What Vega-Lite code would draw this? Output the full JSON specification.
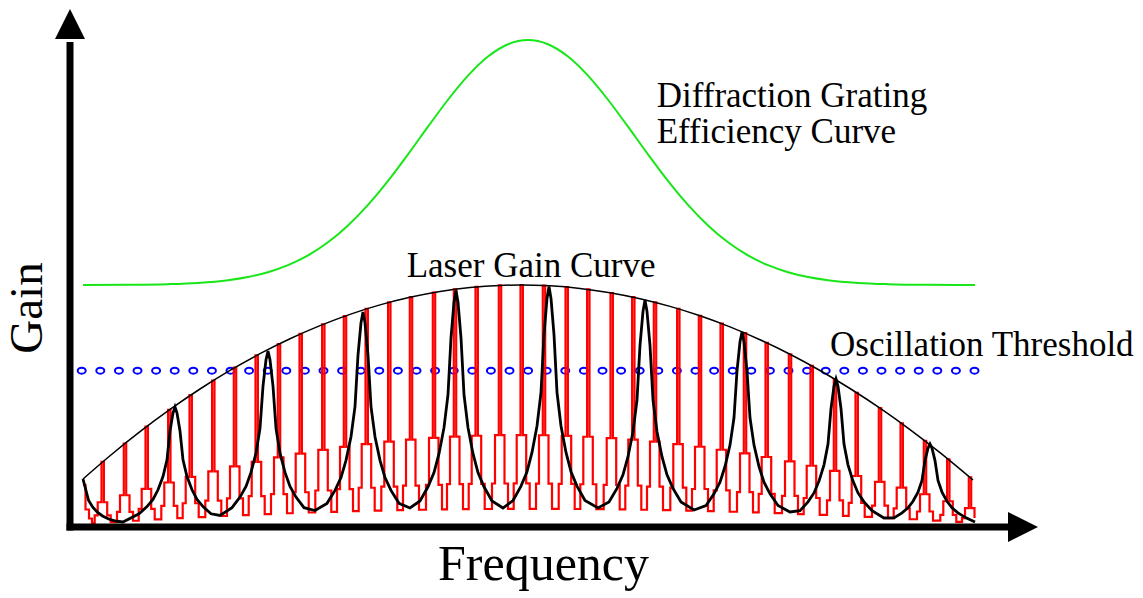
{
"$schema":"https://vega.github.io/schema/vega-lite/v6.json",
"width":1143,"height":598,"padding":0,"autosize":{"type":"none"},
"background":"white",
"config":{"view":{"stroke":null}},
"datasets":{
"env":[{"x":1.3,"y":9.6},{"x":4.0,"y":14.25},{"x":7.0,"y":19.06},{"x":10.0,"y":23.51},{"x":13.0,"y":27.6},{"x":16.0,"y":31.31},{"x":19.0,"y":34.66},{"x":22.0,"y":37.65},{"x":25.0,"y":40.27},{"x":28.0,"y":42.53},{"x":31.0,"y":44.42},{"x":34.0,"y":45.94},{"x":37.0,"y":47.1},{"x":40.0,"y":47.89},{"x":43.0,"y":48.32},{"x":45.0,"y":48.4},{"x":48.0,"y":48.23},{"x":51.0,"y":47.72},{"x":54.0,"y":46.86},{"x":57.0,"y":45.66},{"x":60.0,"y":44.12},{"x":63.0,"y":42.24},{"x":66.0,"y":40.02},{"x":69.0,"y":37.45},{"x":72.0,"y":34.55},{"x":75.0,"y":31.3},{"x":78.0,"y":27.7},{"x":81.0,"y":23.77},{"x":84.0,"y":19.49},{"x":87.0,"y":14.87},{"x":90.3,"y":9.4}],
"green":[{"x":1.3,"y":48.4},{"x":5.8,"y":48.44},{"x":9.8,"y":48.57},{"x":12.8,"y":48.82},{"x":15.8,"y":49.36},{"x":17.8,"y":50.0},{"x":19.8,"y":50.96},{"x":21.8,"y":52.36},{"x":23.8,"y":54.32},{"x":25.8,"y":56.94},{"x":27.8,"y":60.3},{"x":29.8,"y":64.42},{"x":31.8,"y":69.22},{"x":33.8,"y":74.53},{"x":35.8,"y":80.06},{"x":37.8,"y":85.45},{"x":39.8,"y":90.27},{"x":41.8,"y":94.09},{"x":43.8,"y":96.55},{"x":45.8,"y":97.4},{"x":47.8,"y":96.55},{"x":49.8,"y":94.09},{"x":51.8,"y":90.27},{"x":53.8,"y":85.45},{"x":55.8,"y":80.06},{"x":57.8,"y":74.53},{"x":59.8,"y":69.22},{"x":61.8,"y":64.42},{"x":63.8,"y":60.3},{"x":65.8,"y":56.94},{"x":67.8,"y":54.32},{"x":69.8,"y":52.36},{"x":71.8,"y":50.96},{"x":73.8,"y":50.0},{"x":75.8,"y":49.36},{"x":78.8,"y":48.82},{"x":81.8,"y":48.57},{"x":85.8,"y":48.44},{"x":90.5,"y":48.4}],
"dots":[{"x":1.17,"y":31.26},{"x":3.03,"y":31.26},{"x":4.89,"y":31.26},{"x":6.75,"y":31.26},{"x":8.61,"y":31.26},{"x":10.47,"y":31.26},{"x":12.33,"y":31.26},{"x":14.19,"y":31.26},{"x":16.05,"y":31.26},{"x":17.91,"y":31.26},{"x":19.77,"y":31.26},{"x":21.63,"y":31.26},{"x":23.49,"y":31.26},{"x":25.35,"y":31.26},{"x":27.21,"y":31.26},{"x":29.07,"y":31.26},{"x":30.93,"y":31.26},{"x":32.79,"y":31.26},{"x":34.65,"y":31.26},{"x":36.51,"y":31.26},{"x":38.37,"y":31.26},{"x":40.23,"y":31.26},{"x":42.09,"y":31.26},{"x":43.95,"y":31.26},{"x":45.81,"y":31.26},{"x":47.67,"y":31.26},{"x":49.53,"y":31.26},{"x":51.39,"y":31.26},{"x":53.25,"y":31.26},{"x":55.11,"y":31.26},{"x":56.97,"y":31.26},{"x":58.83,"y":31.26},{"x":60.69,"y":31.26},{"x":62.55,"y":31.26},{"x":64.41,"y":31.26},{"x":66.27,"y":31.26},{"x":68.13,"y":31.26},{"x":69.99,"y":31.26},{"x":71.85,"y":31.26},{"x":73.71,"y":31.26},{"x":75.57,"y":31.26},{"x":77.43,"y":31.26},{"x":79.29,"y":31.26},{"x":81.15,"y":31.26},{"x":83.01,"y":31.26},{"x":84.87,"y":31.26},{"x":86.73,"y":31.26},{"x":88.59,"y":31.26},{"x":90.45,"y":31.26}],
"red":[{"x":1.3,"y":8.4},{"x":1.55,"y":3.5},{"x":1.9,"y":1.7},{"x":2.2,"y":0.8},
{"x":2.47,"y":2.34},{"x":2.77,"y":4.95},{"x":3.15,"y":13.02},{"x":3.39,"y":4.95},{"x":3.72,"y":2.34},{"x":4.07,"y":0.98},
{"x":4.7,"y":3.01},{"x":5.0,"y":6.35},{"x":5.38,"y":16.7},{"x":5.62,"y":6.35},{"x":5.95,"y":3.01},{"x":6.3,"y":1.25},
{"x":6.87,"y":3.62},{"x":7.17,"y":7.63},{"x":7.55,"y":20.09},{"x":7.79,"y":7.63},{"x":8.12,"y":3.62},{"x":8.47,"y":1.51},
{"x":9.13,"y":4.21},{"x":9.43,"y":8.9},{"x":9.81,"y":23.41},{"x":10.05,"y":8.9},{"x":10.38,"y":4.21},{"x":10.73,"y":1.76},
{"x":11.27,"y":4.75},{"x":11.57,"y":10.02},{"x":11.95,"y":26.37},{"x":12.19,"y":10.02},{"x":12.52,"y":4.75},{"x":12.87,"y":1.98},
{"x":13.53,"y":5.27},{"x":13.83,"y":11.13},{"x":14.21,"y":29.29},{"x":14.45,"y":11.13},{"x":14.78,"y":5.27},{"x":15.13,"y":2.2},
{"x":15.7,"y":5.74},{"x":16.0,"y":12.12},{"x":16.38,"y":31.9},{"x":16.62,"y":12.12},{"x":16.95,"y":5.74},{"x":17.3,"y":2.39},
{"x":17.87,"y":6.18},{"x":18.17,"y":13.04},{"x":18.55,"y":34.31},{"x":18.79,"y":13.04},{"x":19.12,"y":6.18},{"x":19.47,"y":2.57},
{"x":20.1,"y":6.59},{"x":20.4,"y":13.91},{"x":20.78,"y":36.6},{"x":21.02,"y":13.91},{"x":21.35,"y":6.59},{"x":21.7,"y":2.75},
{"x":22.27,"y":6.95},{"x":22.57,"y":14.68},{"x":22.95,"y":38.63},{"x":23.19,"y":14.68},{"x":23.52,"y":6.95},{"x":23.87,"y":2.9},
{"x":24.53,"y":7.3},{"x":24.83,"y":15.41},{"x":25.21,"y":40.54},{"x":25.45,"y":15.41},{"x":25.78,"y":7.3},{"x":26.13,"y":3.04},
{"x":26.7,"y":7.59},{"x":27.0,"y":16.03},{"x":27.38,"y":42.18},{"x":27.62,"y":16.03},{"x":27.95,"y":7.59},{"x":28.3,"y":3.16},
{"x":28.87,"y":7.85},{"x":29.17,"y":16.58},{"x":29.55,"y":43.63},{"x":29.79,"y":16.58},{"x":30.12,"y":7.85},{"x":30.47,"y":3.27},
{"x":31.13,"y":8.09},{"x":31.43,"y":17.07},{"x":31.81,"y":44.93},{"x":32.05,"y":17.07},{"x":32.38,"y":8.09},{"x":32.73,"y":3.37},
{"x":33.3,"y":8.28},{"x":33.6,"y":17.48},{"x":33.98,"y":45.99},{"x":34.22,"y":17.48},{"x":34.55,"y":8.28},{"x":34.9,"y":3.45},
{"x":35.6,"y":8.44},{"x":35.9,"y":17.82},{"x":36.28,"y":46.9},{"x":36.52,"y":17.82},{"x":36.85,"y":8.44},{"x":37.2,"y":3.52},
{"x":37.7,"y":8.56},{"x":38.0,"y":18.07},{"x":38.38,"y":47.54},{"x":38.62,"y":18.07},{"x":38.95,"y":8.56},{"x":39.3,"y":3.57},
{"x":39.87,"y":8.64},{"x":40.17,"y":18.25},{"x":40.55,"y":48.02},{"x":40.79,"y":18.25},{"x":41.12,"y":8.64},{"x":41.47,"y":3.6},
{"x":42.2,"y":8.7},{"x":42.5,"y":18.36},{"x":42.88,"y":48.32},{"x":43.12,"y":18.36},{"x":43.45,"y":8.7},{"x":43.8,"y":3.62},
{"x":44.37,"y":8.71},{"x":44.67,"y":18.39},{"x":45.05,"y":48.4},{"x":45.29,"y":18.39},{"x":45.62,"y":8.71},{"x":45.97,"y":3.63},
{"x":46.6,"y":8.69},{"x":46.9,"y":18.35},{"x":47.28,"y":48.29},{"x":47.52,"y":18.35},{"x":47.85,"y":8.69},{"x":48.2,"y":3.62},
{"x":48.87,"y":8.64},{"x":49.17,"y":18.24},{"x":49.55,"y":47.99},{"x":49.79,"y":18.24},{"x":50.12,"y":8.64},{"x":50.47,"y":3.6},
{"x":51.03,"y":8.55},{"x":51.33,"y":18.05},{"x":51.71,"y":47.51},{"x":51.95,"y":18.05},{"x":52.28,"y":8.55},{"x":52.63,"y":3.56},
{"x":53.37,"y":8.42},{"x":53.67,"y":17.78},{"x":54.05,"y":46.8},{"x":54.29,"y":17.78},{"x":54.62,"y":8.42},{"x":54.97,"y":3.51},
{"x":55.53,"y":8.27},{"x":55.83,"y":17.46},{"x":56.21,"y":45.96},{"x":56.45,"y":17.46},{"x":56.78,"y":8.27},{"x":57.13,"y":3.45},
{"x":57.7,"y":8.09},{"x":58.0,"y":17.08},{"x":58.38,"y":44.94},{"x":58.62,"y":17.08},{"x":58.95,"y":8.09},{"x":59.3,"y":3.37},
{"x":60.03,"y":7.86},{"x":60.33,"y":16.58},{"x":60.71,"y":43.64},{"x":60.95,"y":16.58},{"x":61.28,"y":7.86},{"x":61.63,"y":3.27},
{"x":62.2,"y":7.6},{"x":62.5,"y":16.05},{"x":62.88,"y":42.24},{"x":63.12,"y":16.05},{"x":63.45,"y":7.6},{"x":63.8,"y":3.17},
{"x":64.37,"y":7.32},{"x":64.67,"y":15.45},{"x":65.05,"y":40.67},{"x":65.29,"y":15.45},{"x":65.62,"y":7.32},{"x":65.97,"y":3.05},
{"x":66.7,"y":6.98},{"x":67.0,"y":14.74},{"x":67.38,"y":38.78},{"x":67.62,"y":14.74},{"x":67.95,"y":6.98},{"x":68.3,"y":2.91},
{"x":68.87,"y":6.63},{"x":69.17,"y":14.0},{"x":69.55,"y":36.83},{"x":69.79,"y":14.0},{"x":70.12,"y":6.63},{"x":70.47,"y":2.76},
{"x":71.2,"y":6.22},{"x":71.5,"y":13.13},{"x":71.88,"y":34.55},{"x":72.12,"y":13.13},{"x":72.45,"y":6.22},{"x":72.8,"y":2.59},
{"x":73.37,"y":5.8},{"x":73.67,"y":12.25},{"x":74.05,"y":32.23},{"x":74.29,"y":12.25},{"x":74.62,"y":5.8},{"x":74.97,"y":2.42},
{"x":75.7,"y":5.32},{"x":76.0,"y":11.23},{"x":76.38,"y":29.54},{"x":76.62,"y":11.23},{"x":76.95,"y":5.32},{"x":77.3,"y":2.22},
{"x":77.87,"y":4.83},{"x":78.17,"y":10.2},{"x":78.55,"y":26.85},{"x":78.79,"y":10.2},{"x":79.12,"y":4.83},{"x":79.47,"y":2.01},
{"x":80.2,"y":4.28},{"x":80.5,"y":9.03},{"x":80.88,"y":23.77},{"x":81.12,"y":9.03},{"x":81.45,"y":4.28},{"x":81.8,"y":1.78},
{"x":82.37,"y":3.73},{"x":82.67,"y":7.87},{"x":83.05,"y":20.71},{"x":83.29,"y":7.87},{"x":83.62,"y":3.73},{"x":83.97,"y":1.55},
{"x":84.7,"y":3.1},{"x":85.0,"y":6.55},{"x":85.38,"y":17.23},{"x":85.62,"y":6.55},{"x":85.95,"y":3.1},{"x":86.3,"y":1.29},
{"x":87.03,"y":2.44},{"x":87.33,"y":5.15},{"x":87.71,"y":13.54},{"x":87.95,"y":5.15},{"x":88.28,"y":2.44},{"x":88.63,"y":1.02},
{"x":89.2,"y":1.78},{"x":89.5,"y":3.77},{"x":89.88,"y":9.91},{"x":90.12,"y":3.77},{"x":90.45,"y":1.78}],
"black":[{"x":1.3,"y":9.6},{"x":1.56,"y":7.6},{"x":1.86,"y":5.3},{"x":2.26,"y":4.0},{"x":2.76,"y":2.9},{"x":3.26,"y":2.2},{"x":3.86,"y":1.6},{"x":4.66,"y":1.15},{"x":5.3,"y":1.0},
{"x":6.9,"y":2.64},{"x":7.7,"y":4.08},{"x":8.3,"y":5.52},{"x":8.8,"y":7.44},{"x":9.3,"y":10.08},{"x":9.7,"y":13.44},{"x":10.0,"y":19.2},{"x":10.3,"y":22.8},{"x":10.5,"y":24.0},{"x":10.7,"y":22.8},{"x":11.0,"y":19.2},{"x":11.3,"y":13.44},{"x":11.7,"y":10.08},{"x":12.2,"y":7.44},{"x":12.7,"y":5.52},{"x":13.3,"y":4.08},{"x":14.1,"y":2.64},{"x":15.0,"y":2.3},
{"x":16.2,"y":3.87},{"x":17.0,"y":5.98},{"x":17.6,"y":8.1},{"x":18.1,"y":10.91},{"x":18.6,"y":14.78},{"x":19.0,"y":19.71},{"x":19.3,"y":28.16},{"x":19.6,"y":33.44},{"x":19.8,"y":35.2},{"x":20.0,"y":33.44},{"x":20.3,"y":28.16},{"x":20.6,"y":19.71},{"x":21.0,"y":14.78},{"x":21.5,"y":10.91},{"x":22.0,"y":8.1},{"x":22.6,"y":5.98},{"x":23.4,"y":3.87},{"x":24.5,"y":3.3},
{"x":25.7,"y":4.73},{"x":26.5,"y":7.31},{"x":27.1,"y":9.89},{"x":27.6,"y":13.33},{"x":28.1,"y":18.06},{"x":28.5,"y":24.08},{"x":28.8,"y":34.4},{"x":29.1,"y":40.85},{"x":29.3,"y":43.0},{"x":29.5,"y":40.85},{"x":29.8,"y":34.4},{"x":30.1,"y":24.08},{"x":30.5,"y":18.06},{"x":31.0,"y":13.33},{"x":31.5,"y":9.89},{"x":32.1,"y":7.31},{"x":32.9,"y":4.73},{"x":34.0,"y":3.8},
{"x":35.0,"y":5.2},{"x":35.8,"y":8.04},{"x":36.4,"y":10.88},{"x":36.9,"y":14.66},{"x":37.4,"y":19.87},{"x":37.8,"y":26.49},{"x":38.1,"y":37.84},{"x":38.4,"y":44.94},{"x":38.6,"y":47.3},{"x":38.8,"y":44.94},{"x":39.1,"y":37.84},{"x":39.4,"y":26.49},{"x":39.8,"y":19.87},{"x":40.3,"y":14.66},{"x":40.8,"y":10.88},{"x":41.4,"y":8.04},{"x":42.2,"y":5.2},{"x":43.3,"y":3.8},
{"x":44.3,"y":5.29},{"x":45.1,"y":8.18},{"x":45.7,"y":11.06},{"x":46.2,"y":14.91},{"x":46.7,"y":20.2},{"x":47.1,"y":26.94},{"x":47.4,"y":38.48},{"x":47.7,"y":45.7},{"x":47.9,"y":48.1},{"x":48.1,"y":45.7},{"x":48.4,"y":38.48},{"x":48.7,"y":26.94},{"x":49.1,"y":20.2},{"x":49.6,"y":14.91},{"x":50.1,"y":11.06},{"x":50.7,"y":8.18},{"x":51.5,"y":5.29},{"x":52.8,"y":3.8},
{"x":53.9,"y":4.99},{"x":54.7,"y":7.72},{"x":55.3,"y":10.44},{"x":55.8,"y":14.07},{"x":56.3,"y":19.07},{"x":56.7,"y":25.42},{"x":57.0,"y":36.32},{"x":57.3,"y":43.13},{"x":57.5,"y":45.4},{"x":57.7,"y":43.13},{"x":58.0,"y":36.32},{"x":58.3,"y":25.42},{"x":58.7,"y":19.07},{"x":59.2,"y":14.07},{"x":59.7,"y":10.44},{"x":60.3,"y":7.72},{"x":61.1,"y":4.99},{"x":62.4,"y":3.4},
{"x":63.6,"y":4.29},{"x":64.4,"y":6.63},{"x":65.0,"y":8.97},{"x":65.5,"y":12.09},{"x":66.0,"y":16.38},{"x":66.4,"y":21.84},{"x":66.7,"y":31.2},{"x":67.0,"y":37.05},{"x":67.2,"y":39.0},{"x":67.4,"y":37.05},{"x":67.7,"y":31.2},{"x":68.0,"y":21.84},{"x":68.4,"y":16.38},{"x":68.9,"y":12.09},{"x":69.4,"y":8.97},{"x":70.0,"y":6.63},{"x":70.8,"y":4.29},{"x":72.0,"y":3.0},
{"x":73.0,"y":3.26},{"x":73.8,"y":5.03},{"x":74.4,"y":6.81},{"x":74.9,"y":9.18},{"x":75.4,"y":12.43},{"x":75.8,"y":16.58},{"x":76.1,"y":23.68},{"x":76.4,"y":28.12},{"x":76.6,"y":29.6},{"x":76.8,"y":28.12},{"x":77.1,"y":23.68},{"x":77.4,"y":16.58},{"x":77.8,"y":12.43},{"x":78.3,"y":9.18},{"x":78.8,"y":6.81},{"x":79.4,"y":5.03},{"x":80.2,"y":3.26},{"x":81.4,"y":1.8},
{"x":82.4,"y":1.83},{"x":83.2,"y":2.82},{"x":83.8,"y":3.82},{"x":84.3,"y":5.15},{"x":84.8,"y":6.97},{"x":85.2,"y":9.3},{"x":85.5,"y":13.28},{"x":85.8,"y":15.77},{"x":86.0,"y":16.6},{"x":86.2,"y":15.77},{"x":86.5,"y":13.28},{"x":86.8,"y":9.3},{"x":87.2,"y":6.97},{"x":87.7,"y":5.15},{"x":88.2,"y":3.82},{"x":88.8,"y":2.82},{"x":89.6,"y":1.83},{"x":90.5,"y":1.0}],
"labels":[{"x":58.67,"y":84.06,"t":"Diffraction Grating"},{"x":58.67,"y":76.86,"t":"Efficiency Curve"},{"x":33.67,"y":50.06,"t":"Laser Gain Curve"},{"x":76.0,"y":34.2,"t":"Oscillation Threshold"}],
"ytitle":[{"x":-2.8,"y":43.8,"t":"Gain"}],
"xtitle":[{"x":47.35,"y":-10.6,"t":"Frequency"}]
},
"encoding":{
"x":{"field":"x","type":"quantitative","scale":{"domain":[-7,107.3],"nice":false,"zero":false},"axis":null},
"y":{"field":"y","type":"quantitative","scale":{"domain":[-14.2,105.4],"nice":false,"zero":false},"axis":null}
},
"layer":[
{"data":{"name":"dots"},"mark":{"type":"point","shape":"M-1,0A1,0.75,0,1,1,1,0A1,0.75,0,1,1,-1,0Z","size":64,"filled":false,"color":"#0000ff","strokeWidth":2,"opacity":1}},
{"data":{"name":"green"},"mark":{"type":"line","color":"#19e619","strokeWidth":2,"interpolate":"monotone"}},
{"data":{"name":"red"},"mark":{"type":"line","color":"#ff0000","strokeWidth":2.2,"interpolate":"step-after"}},
{"data":{"name":"black"},"mark":{"type":"line","color":"#000000","strokeWidth":2.8,"strokeJoin":"miter"}},
{"data":{"name":"env"},"mark":{"type":"line","color":"#000000","strokeWidth":1.5,"interpolate":"monotone"}},
{"data":{"name":"labels"},"mark":{"type":"text","font":"Liberation Serif","fontSize":35,"align":"left","baseline":"alphabetic","color":"#000000"},"encoding":{"text":{"field":"t","type":"nominal"}}},
{"data":{"name":"ytitle"},"mark":{"type":"text","font":"Liberation Serif","fontSize":47,"angle":270,"align":"center","baseline":"alphabetic","color":"#000000"},"encoding":{"text":{"field":"t","type":"nominal"}}},
{"data":{"name":"xtitle"},"mark":{"type":"text","font":"Liberation Serif","fontSize":50,"align":"center","baseline":"alphabetic","color":"#000000"},"encoding":{"text":{"field":"t","type":"nominal"}}},
{"data":{"name":"xtitle"},"mark":{"type":"rule","color":"#000000","strokeWidth":7},"encoding":{"x":{"datum":0,"type":"quantitative"},"y":{"datum":-0.7,"type":"quantitative"},"y2":{"datum":97.0}}},
{"data":{"name":"xtitle"},"mark":{"type":"rule","color":"#000000","strokeWidth":7},"encoding":{"y":{"datum":0,"type":"quantitative"},"x":{"datum":-0.35,"type":"quantitative"},"x2":{"datum":94.0}}},
{"data":{"name":"xtitle"},"mark":{"type":"point","shape":"M0,-1L1,1L-1,1Z","size":900,"filled":true,"color":"#000000","opacity":1},"encoding":{"x":{"datum":0,"type":"quantitative"},"y":{"datum":100.6,"type":"quantitative"}}},
{"data":{"name":"xtitle"},"mark":{"type":"point","shape":"M1,0L-1,-1L-1,1Z","size":900,"filled":true,"color":"#000000","opacity":1},"encoding":{"x":{"datum":95.3,"type":"quantitative"},"y":{"datum":0,"type":"quantitative"}}}
]
}
